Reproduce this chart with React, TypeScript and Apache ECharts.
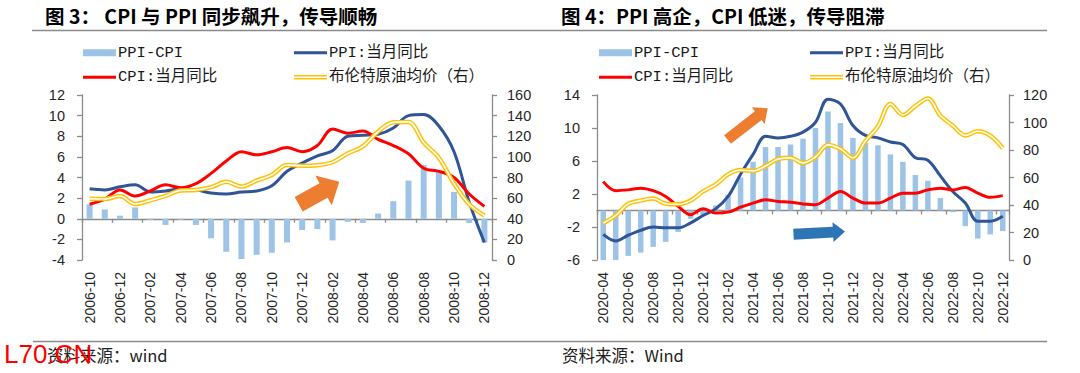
import React, { useEffect, useRef } from "react";
import * as echarts from "echarts";

// ---------- Data: Figure 3 (2006-10 .. 2008-12) ----------
const cats1 = [
  "2006-10", "2006-11", "2006-12", "2007-01", "2007-02", "2007-03", "2007-04", "2007-05", "2007-06",
  "2007-07", "2007-08", "2007-09", "2007-10", "2007-11", "2007-12", "2008-01", "2008-02", "2008-03",
  "2008-04", "2008-05", "2008-06", "2008-07", "2008-08", "2008-09", "2008-10", "2008-11", "2008-12",
];
const ppiCpi1 = [1.4, 0.9, 0.3, 1.1, -0.1, -0.6, -0.1, -0.6, -1.9, -3.2, -3.9, -3.5, -3.3, -2.3, -1.1, -1.0, -2.1, -0.3, -0.4, 0.5, 1.7, 3.7, 5.2, 4.5, 2.6, -0.4, -2.3];
const ppi1 = [2.9, 2.8, 3.1, 3.3, 2.6, 2.7, 2.9, 2.8, 2.5, 2.4, 2.6, 2.7, 3.2, 4.6, 5.4, 6.1, 6.6, 8.0, 8.1, 8.2, 8.8, 10.0, 10.1, 9.0, 6.5, 1.6, -2.3];
const cpi1 = [1.4, 1.9, 2.8, 2.2, 2.7, 3.3, 3.0, 3.4, 4.4, 5.6, 6.5, 6.2, 6.5, 6.9, 6.5, 7.1, 8.7, 8.3, 8.5, 7.7, 7.1, 6.3, 4.9, 4.6, 4.0, 2.4, 1.2];
const oil1 = [59.5, 59.1, 62.0, 54.3, 57.8, 62.1, 67.5, 67.9, 70.6, 75.8, 71.2, 77.0, 82.5, 92.1, 91.4, 91.9, 94.8, 103.3, 110.2, 124.6, 133.5, 133.9, 113.9, 99.1, 74.0, 54.0, 43.0];

// ---------- Data: Figure 4 (2020-04 .. 2022-12) ----------
const cats2 = [
  "2020-04", "2020-05", "2020-06", "2020-07", "2020-08", "2020-09", "2020-10", "2020-11", "2020-12",
  "2021-01", "2021-02", "2021-03", "2021-04", "2021-05", "2021-06", "2021-07", "2021-08", "2021-09",
  "2021-10", "2021-11", "2021-12", "2022-01", "2022-02", "2022-03", "2022-04", "2022-05", "2022-06",
  "2022-07", "2022-08", "2022-09", "2022-10", "2022-11", "2022-12",
];
const ppiCpi2 = [-6.4, -6.1, -5.5, -5.1, -4.4, -3.8, -2.6, -1.0, -0.6, 0.6, 1.9, 4.0, 5.9, 7.7, 7.7, 8.0, 8.7, 10.0, 12.0, 10.6, 8.8, 8.2, 7.9, 6.8, 5.9, 4.3, 3.6, 1.5, -0.2, -1.9, -3.4, -2.9, -2.5];
const ppi2 = [-2.9, -3.7, -3.0, -2.4, -2.0, -2.1, -2.1, -1.5, -0.6, 0.2, 1.7, 4.4, 6.8, 9.0, 8.8, 9.0, 9.5, 10.7, 13.5, 12.9, 10.3, 9.1, 8.8, 8.3, 8.0, 6.4, 6.1, 4.2, 2.3, 0.9, -1.3, -1.3, -0.7];
const cpi2 = [3.5, 2.4, 2.5, 2.7, 2.4, 1.7, 0.5, -0.5, 0.2, -0.3, -0.2, 0.4, 0.9, 1.3, 1.1, 1.0, 0.8, 0.7, 1.5, 2.3, 1.5, 0.9, 0.9, 1.5, 2.1, 2.1, 2.5, 2.7, 2.5, 2.8, 2.1, 1.6, 1.8];
const oil2 = [26.8, 32.4, 40.8, 43.2, 44.7, 40.9, 40.5, 43.2, 49.9, 54.8, 62.3, 65.4, 64.8, 68.3, 73.4, 74.3, 70.5, 74.9, 83.7, 80.8, 74.3, 86.5, 97.1, 113.5, 105.5, 112.0, 117.5, 105.1, 97.7, 90.6, 93.6, 90.4, 81.3];

// tick labels
const yLeft1 = { min: -4, max: 12, interval: 2 };
const yRight1 = { min: 0, max: 160, interval: 20 };
const yLeft2Ticks = [-6, -2, 2, 6, 10, 14];
const yRight2 = { min: 0, max: 120, interval: 20 };

const titles = ["图 3： CPI 与 PPI 同步飙升，传导顺畅", "图 4：PPI 高企，CPI 低迷，传导阻滞"];
const sources = ["资料来源：wind", "资料来源：Wind"];
const legendNames = ["PPI-CPI", "CPI:当月同比", "PPI:当月同比", "布伦特原油均价（右）"];

const BAR = "#9DC3E6";
const BLUE = "#2F5597";
const RED = "#FF0000";
const GOLD = "#FFC000";
const AXIS = "#8c8c8c";
const LABEL = "#262626";
const ORANGE = "#ED7D31";
const ARROWBLUE = "#2E75B6";

const NUMFONT = "'Liberation Sans', Arial, sans-serif";
const CJK = "'Noto Sans CJK SC', sans-serif";
const LEGFONT = "'Liberation Mono', 'Noto Sans CJK SC', monospace";

function arrowPts(tx: number, ty: number, hx: number, hy: number, sw: number, hw: number, hl: number) {
  const dx = hx - tx, dy = hy - ty;
  const L = Math.hypot(dx, dy);
  const ux = dx / L, uy = dy / L;
  const px = -uy, py = ux;
  const bx = hx - ux * hl, by = hy - uy * hl;
  return [
    [tx + px * sw / 2, ty + py * sw / 2],
    [bx + px * sw / 2, by + py * sw / 2],
    [bx + px * hw / 2, by + py * hw / 2],
    [hx, hy],
    [bx - px * hw / 2, by - py * hw / 2],
    [bx - px * sw / 2, by - py * sw / 2],
    [tx - px * sw / 2, ty - py * sw / 2],
  ];
}

function legendBlock(x1: number, x2: number, y1: number, y2: number) {
  const w = 33;
  const f = `15.5px ${LEGFONT}`;
  const els: any[] = [
    { type: "rect", shape: { x: x1, y: y1 - 3.5, width: w, height: 7 }, style: { fill: BAR } },
    { type: "text", x: x1 + w + 2, y: y1, style: { text: legendNames[0], font: f, fill: "#1a1a1a", verticalAlign: "middle" } },
    { type: "line", shape: { x1: x1, y1: y2, x2: x1 + w, y2: y2 }, style: { stroke: RED, lineWidth: 3 } },
    { type: "text", x: x1 + w + 2, y: y2, style: { text: legendNames[1], font: f, fill: "#1a1a1a", verticalAlign: "middle" } },
    { type: "line", shape: { x1: x2, y1: y1, x2: x2 + w, y2: y1 }, style: { stroke: BLUE, lineWidth: 3 } },
    { type: "text", x: x2 + w + 2, y: y1, style: { text: legendNames[2], font: f, fill: "#1a1a1a", verticalAlign: "middle" } },
    { type: "line", shape: { x1: x2, y1: y2, x2: x2 + w, y2: y2 }, style: { stroke: GOLD, lineWidth: 4.5 } },
    { type: "line", shape: { x1: x2, y1: y2, x2: x2 + w, y2: y2 }, style: { stroke: "#fff", lineWidth: 1.6 } },
    { type: "text", x: x2 + w + 2, y: y2, style: { text: legendNames[3], font: f, fill: "#1a1a1a", verticalAlign: "middle" } },
  ];
  return els;
}

export default function App() {
  const ref = useRef<HTMLDivElement>(null);

  useEffect(() => {
    if (!ref.current) return;
    const chart = echarts.init(ref.current, undefined, { renderer: "svg" });

    const catAxisLabels = (gridIndex: number, data: string[]) => ({
      type: "category",
      gridIndex,
      data,
      position: "bottom",
      boundaryGap: true,
      axisLine: { show: false, onZero: false },
      axisTick: { show: false },
      axisLabel: { interval: 1, rotate: 90, margin: 12, fontSize: 14, color: LABEL, fontFamily: NUMFONT },
      splitLine: { show: false },
    });
    const catAxisZero = (gridIndex: number, data: string[], onZeroIdx: number) => ({
      type: "category",
      gridIndex,
      data,
      position: "bottom",
      boundaryGap: true,
      axisLine: { show: true, onZero: true, onZeroAxisIndex: onZeroIdx, lineStyle: { color: AXIS, width: 1.3 } },
      axisTick: { show: true, interval: 1, length: 4, lineStyle: { color: AXIS, width: 1.3 } },
      axisLabel: { show: false },
      splitLine: { show: false },
    });
    const valAxis = (gridIndex: number, position: string, extra: any, margin: number) => ({
      type: "value",
      gridIndex,
      position,
      min: extra.min,
      max: extra.max,
      ...(extra.interval ? { interval: extra.interval } : {}),
      axisLine: { show: true, onZero: false, lineStyle: { color: AXIS, width: 1.3 } },
      axisTick: { show: true, length: 5, lineStyle: { color: AXIS, width: 1.3 }, ...(extra.tickCustom ? { customValues: extra.tickCustom } : {}) },
      axisLabel: { margin, fontSize: 14.5, color: LABEL, fontFamily: NUMFONT, ...(extra.tickCustom ? { customValues: extra.tickCustom } : {}) },
      splitLine: { show: false },
    });

    const lineSeries = (name: string, x: number, y: number, data: number[], color: string, width: number, z: number) => ({
      name,
      type: "line",
      xAxisIndex: x,
      yAxisIndex: y,
      data,
      smooth: 0.35,
      symbol: "none",
      lineStyle: { color, width },
      z,
    });

    const graphic: any[] = [
      // titles
      { type: "text", x: 45, y: 15, style: { text: titles[0], font: `bold 19.5px ${CJK}`, fill: "#000", verticalAlign: "middle" } },
      { type: "text", x: 561, y: 15, style: { text: titles[1], font: `bold 19.5px ${CJK}`, fill: "#000", verticalAlign: "middle" } },
      // rules
      { type: "line", shape: { x1: 32, y1: 30.5, x2: 1047, y2: 30.5 }, style: { stroke: "#8a8a8a", lineWidth: 1.3 } },
      { type: "line", shape: { x1: 33, y1: 341.5, x2: 1047, y2: 341.5 }, style: { stroke: "#8a8a8a", lineWidth: 1.3 } },
      // sources
      { type: "text", x: 47, y: 355, style: { text: sources[0], font: `16.5px ${CJK}`, fill: "#222", verticalAlign: "middle" } },
      { type: "text", x: 562, y: 355, style: { text: sources[1], font: `16.5px ${CJK}`, fill: "#222", verticalAlign: "middle" } },
      // legends
      ...legendBlock(83, 294, 52.7, 77.3),
      ...legendBlock(599, 810, 52.7, 77.3),
      // arrows
      { type: "polygon", z: 50, shape: { points: arrowPts(298.7, 204.2, 339.3, 181.7, 16.5, 34, 18) }, style: { fill: ORANGE } },
      { type: "polygon", z: 50, shape: { points: arrowPts(727.5, 139.5, 767.7, 108.3, 11, 21, 12) }, style: { fill: ORANGE } },
      { type: "polygon", z: 50, shape: { points: arrowPts(793.5, 234.2, 845, 231.5, 11, 20, 12) }, style: { fill: ARROWBLUE } },
      // watermark (overlaps the source line as in the reference)
      { type: "text", z: 100, x: 4, y: 354, style: { text: "L70.CN", font: `26px ${NUMFONT}`, fill: "#f00", verticalAlign: "middle" } },
    ];

    chart.setOption({
      animation: false,
      backgroundColor: "#fff",
      grid: [
        { left: 82, top: 95, width: 410, height: 165, containLabel: false },
        { left: 597, top: 95, width: 412, height: 165, containLabel: false },
      ],
      xAxis: [
        catAxisLabels(0, cats1),
        catAxisZero(0, cats1, 0),
        catAxisLabels(1, cats2),
        catAxisZero(1, cats2, 2),
      ],
      yAxis: [
        valAxis(0, "left", yLeft1, 17),
        valAxis(0, "right", yRight1, 15),
        valAxis(1, "left", { min: -6, max: 14, tickCustom: yLeft2Ticks }, 17),
        valAxis(1, "right", yRight2, 14),
      ],
      series: [
        { name: "PPI-CPI", type: "bar", xAxisIndex: 0, yAxisIndex: 0, data: ppiCpi1, barWidth: 6, itemStyle: { color: BAR }, z: 2 },
        lineSeries("PPI:当月同比", 0, 0, ppi1, BLUE, 3, 3),
        lineSeries("CPI:当月同比", 0, 0, cpi1, RED, 3, 3),
        lineSeries("布伦特原油均价（右）", 0, 1, oil1, GOLD, 4.5, 4),
        lineSeries("oil-inner-1", 0, 1, oil1, "#ffffff", 1.6, 5),

        { name: "PPI-CPI ", type: "bar", xAxisIndex: 2, yAxisIndex: 2, data: ppiCpi2, barWidth: 5.5, itemStyle: { color: BAR }, z: 2 },
        lineSeries("PPI:当月同比 ", 2, 2, ppi2, BLUE, 3, 3),
        lineSeries("CPI:当月同比 ", 2, 2, cpi2, RED, 3, 3),
        lineSeries("布伦特原油均价（右） ", 2, 3, oil2, GOLD, 4.5, 4),
        lineSeries("oil-inner-2", 2, 3, oil2, "#ffffff", 1.6, 5),
      ],
      graphic,
    });

    return () => chart.dispose();
  }, []);

  return (
    <div
      ref={ref}
      style={{ position: "fixed", left: 0, top: 0, width: 1080, height: 373, background: "#fff" }}
    />
  );
}
